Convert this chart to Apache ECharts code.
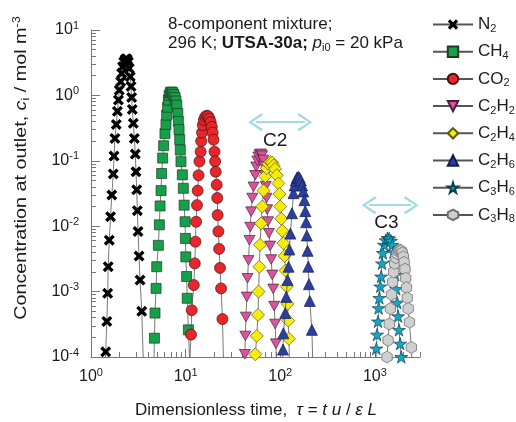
<!DOCTYPE html>
<html><head><meta charset="utf-8">
<script src="https://cdn.jsdelivr.net/npm/echarts@6/dist/echarts.min.js"></script>
<style>html,body{margin:0;padding:0;background:#fff}#c{width:516px;height:422px}</style>
</head><body><div id="c"></div>
<script>
const seriesNames = ['N2','CH4','CO2','C2H2','C2H4','C2H6','C3H6','C3H8'];
const legendLabels = ['N{s|2}','CH{s|4}','CO{s|2}','C{s|2}H{s|2}','C{s|2}H{s|4}','C{s|2}H{s|6}','C{s|3}H{s|6}','C{s|3}H{s|8}'];

const n2Data = [[1.40,6e-5],[1.43,1.2e-4],[1.47,3.5e-4],[1.50,9.4e-4],[1.52,2.4e-3],[1.56,6.1e-3],[1.61,0.014],[1.66,0.030],[1.72,0.063],[1.75,0.118],[1.79,0.22],[1.85,0.36],[1.90,0.57],[1.95,0.85],[1.99,1.2],[2.06,1.62],[2.11,2.18],[2.16,2.75],[2.22,3.25],[2.29,3.55],[2.36,3.65],[2.42,3.55],[2.48,3.25],[2.54,2.6],[2.60,1.93],[2.65,1.37],[2.69,0.93],[2.73,0.61],[2.80,0.375],[2.87,0.22],[2.94,0.127],[2.99,0.068],[3.04,0.036],[3.09,0.0173],[3.14,0.0083],[3.22,0.0035],[3.30,0.0015],[3.44,5e-4],[3.60,6e-5]];
const ch4Data = [[4.62,8e-5],[4.68,1.94e-4],[4.75,4.7e-4],[4.87,1.12e-3],[4.95,2.4e-3],[5.15,5.1e-3],[5.28,0.0105],[5.37,0.0204],[5.50,0.035],[5.58,0.064],[5.72,0.11],[5.85,0.17],[6.05,0.26],[6.20,0.36],[6.30,0.50],[6.45,0.66],[6.57,0.85],[6.70,1.0],[6.88,1.1],[7.08,1.13],[7.3,1.1],[7.52,1.03],[7.74,0.93],[7.9,0.82],[8.07,0.71],[8.27,0.53],[8.38,0.40],[8.52,0.30],[8.66,0.21],[8.79,0.146],[8.93,0.097],[9.23,0.061],[9.46,0.038],[9.64,0.021],[9.87,0.0117],[9.95,0.0065],[10.05,0.0034],[10.25,0.0017],[10.4,7.9e-4],[10.7,2.6e-4],[11.2,5e-5]];
const co2Data = [[11.0,7e-5],[11.4,2.2e-4],[11.6,5.2e-4],[12.2,1.26e-3],[12.5,2.7e-3],[12.7,5.8e-3],[12.9,0.0117],[13.2,0.021],[13.4,0.035],[13.7,0.060],[14.0,0.098],[14.4,0.138],[14.6,0.20],[14.9,0.27],[15.2,0.35],[15.6,0.42],[16.1,0.47],[16.7,0.49],[17.3,0.48],[17.9,0.44],[18.4,0.39],[18.9,0.33],[19.3,0.27],[19.7,0.21],[20.2,0.138],[20.5,0.098],[20.8,0.068],[21.3,0.043],[21.6,0.027],[21.8,0.0148],[22.2,0.0083],[22.6,0.0045],[23.1,0.0023],[23.7,0.00112],[24.5,3.8e-4],[25.3,6e-5]];
const c2h2Data = [[42.0,6e-5],[42.3,1.1e-4],[42.8,2.1e-4],[43.4,4.1e-4],[44.4,8.3e-4],[45.1,1.6e-3],[46.2,3.0e-3],[47.3,6.1e-3],[48.2,9.7e-3],[49.3,0.0167],[50.6,0.027],[52.2,0.040],[54.4,0.060],[55.7,0.081],[57.3,0.10],[58.7,0.115],[60.5,0.125],[62.5,0.128],[64.3,0.12],[66,0.103],[67.5,0.082],[69,0.06],[70.3,0.041],[71.5,0.027],[72.8,0.018],[74.2,0.0118],[76,0.0078],[78.2,0.005],[80.2,0.0031],[82.3,0.0018],[84.3,1.1e-3],[86.3,6e-4],[88.3,3.2e-4],[90,1.6e-4],[91.5,6e-5]];
const c2h4Data = [[53.5,6e-5],[54.5,1.1e-4],[56.5,2.1e-4],[58.2,4.4e-4],[59.0,1.0e-3],[60.2,2.4e-3],[61.2,5.2e-3],[62.8,0.011],[64.6,0.02],[66.6,0.035],[69.3,0.058],[72,0.077],[75,0.09],[78.5,0.096],[82,0.094],[85,0.085],[88,0.075],[92,0.06],[95.5,0.045],[98,0.031],[100,0.02],[102.5,0.013],[105,0.0085],[108,0.0055],[111,0.0035],[114,0.0021],[117,0.0012],[119.5,6.5e-4],[121.5,3.6e-4],[123.5,1.9e-4],[126,6e-5]];
const c2h6Data = [[105,6e-5],[107,1.3e-4],[108,2.3e-4],[113,4.7e-4],[115.6,8.3e-4],[119.5,1.5e-3],[122.5,2.4e-3],[125,4.4e-3],[128,7.7e-3],[133,0.0158],[138,0.032],[142,0.042],[146,0.05],[150,0.055],[155,0.057],[160,0.055],[165,0.05],[170,0.042],[175,0.034],[180,0.025],[184,0.017],[188,0.0115],[191,0.0072],[194.5,0.0042],[198,0.0024],[201,0.0013],[205,7.2e-4],[216,2.6e-4],[222,6e-5]];
const c3h6Data = [[1020,6e-5],[1037,1.35e-4],[1055,2.2e-4],[1080,3.5e-4],[1097,5.6e-4],[1115,8e-4],[1140,1.2e-3],[1165,1.7e-3],[1190,2.7e-3],[1215,3.9e-3],[1250,5.2e-3],[1300,6.1e-3],[1360,6.6e-3],[1420,6.5e-3],[1480,6.0e-3],[1530,5.2e-3],[1570,4.0e-3],[1600,2.8e-3],[1640,1.8e-3],[1680,1.1e-3],[1720,6.8e-4],[1760,4.2e-4],[1800,2.6e-4],[1850,1.6e-4],[1900,1.0e-4],[1950,5e-5]];
const c3h8Data = [[1320,6e-5],[1345,1.0e-4],[1380,1.8e-4],[1420,3.2e-4],[1460,5.5e-4],[1500,9e-4],[1540,1.4e-3],[1580,2.0e-3],[1620,2.7e-3],[1670,3.3e-3],[1720,3.8e-3],[1780,4.15e-3],[1840,4.3e-3],[1900,4.2e-3],[1950,3.9e-3],[2000,3.4e-3],[2040,2.8e-3],[2080,2.2e-3],[2120,1.6e-3],[2160,1.15e-3],[2200,8e-4],[2250,5.5e-4],[2320,3.4e-4],[2430,1.4e-4],[2500,5e-5]];

const xMajorTicks = [1,10,100,1000];
const xMinorTicks = [2,3,4,5,6,7,8,9,20,30,40,50,60,70,80,90,200,300,400,500,600,700,800,900,2000,3000];
const yMajorTicks = [1e-4,1e-3,1e-2,1e-1,1,10];
const yMinorTicks = [2e-4,3e-4,4e-4,5e-4,6e-4,7e-4,8e-4,9e-4,2e-3,3e-3,4e-3,5e-3,6e-3,7e-3,8e-3,9e-3,0.02,0.03,0.04,0.05,0.06,0.07,0.08,0.09,0.2,0.3,0.4,0.5,0.6,0.7,0.8,0.9,2,3,4,5,6,7,8,9];

const arrowC2 = [55, 182, 0.39];
const arrowC3 = [870, 2420, 0.021];
const labelC2 = [88.5, 0.2];
const labelC3 = [1324, 0.0112];

const FONT = '"Liberation Sans", Arial, sans-serif';
const TXT = '#1a1a1a';
const AX = '#777';

const SYM_X = 'path://M0,2.6 L2.6,0 L6,3.4 L9.4,0 L12,2.6 L8.6,6 L12,9.4 L9.4,12 L6,8.6 L2.6,12 L0,9.4 L3.4,6 Z';
const SYM_DOWN = 'path://M0,0 L100,0 L50,87 Z';
const SYM_STAR = 'path://M50,0 L61,35 L98,35 L68,57 L79,91 L50,70 L21,91 L32,57 L2,35 L39,35 Z';
const SYM_HEX = 'path://M50,0 L93,25 L93,75 L50,100 L7,75 L7,25 Z';
const SYM_CHEV = 'path://M50,0 L100,88 L90,100 L50,26 L10,100 L0,88 Z';

const styles = [
  {data:n2Data,  symbol:SYM_X,      size:11, color:'#000000', border:'#000000', bw:0},
  {data:ch4Data, symbol:'rect',     size:10, color:'#16a04a', border:'#1d3a22', bw:0.7},
  {data:co2Data, symbol:'circle',   size:11, color:'#e8262b', border:'#4a1010', bw:0.7},
  {data:c2h2Data,symbol:SYM_DOWN,   size:11, color:'#d9549c', border:'#4a2038', bw:0.7},
  {data:c2h4Data,symbol:'diamond',  size:13, color:'#f6ec0c', border:'#5a5410', bw:0.7},
  {data:c2h6Data,symbol:'triangle', size:11, color:'#2c3f9f', border:'#141e4a', bw:0.7},
  {data:c3h6Data,symbol:SYM_STAR,   size:13, color:'#15a6c4', border:'#0d4050', bw:0.7},
  {data:c3h8Data,symbol:SYM_HEX,    size:12, color:'#cfcfcf', border:'#707070', bw:0.8}
];

const series = seriesNames.map((name, i) => ({
  name: name, type: 'line', xAxisIndex: 0, yAxisIndex: 0,
  data: styles[i].data, symbol: styles[i].symbol, symbolSize: styles[i].size,
  symbolKeepAspect: true, showAllSymbol: true, clip: true,
  lineStyle: {color: '#555', width: 0.8},
  itemStyle: {color: styles[i].color, borderColor: styles[i].border, borderWidth: styles[i].bw, opacity: 1},
  emphasis: {disabled: true}, z: 2 + i
}));

series.push({
  name: 'annot', type: 'line', xAxisIndex: 0, yAxisIndex: 0, data: [], silent: true,
  markLine: {
    silent: true, symbol: [SYM_CHEV, SYM_CHEV], symbolSize: [18, 15],
    label: {show: false}, emphasis: {disabled: true},
    lineStyle: {color: '#a3dbe3', width: 2, type: 'solid'},
    data: [
      [{coord: [arrowC2[0], arrowC2[2]]}, {coord: [arrowC2[1], arrowC2[2]]}],
      [{coord: [arrowC3[0], arrowC3[2]]}, {coord: [arrowC3[1], arrowC3[2]]}]
    ]
  },
  markPoint: {
    silent: true, symbol: 'circle', symbolSize: 1, itemStyle: {color: 'rgba(0,0,0,0)'},
    label: {show: true, position: 'inside', formatter: '{b}', color: TXT, fontSize: 19, fontFamily: FONT},
    data: [{name: 'C2', coord: labelC2}, {name: 'C3', coord: labelC3}]
  }
});

const supRich = {
  b: {fontSize: 16, fontFamily: FONT, color: TXT},
  s: {fontSize: 11, fontFamily: FONT, color: TXT, padding: [0, 0, 9, 0]}
};
const expLabel = v => '{b|10}{s|' + Math.round(Math.log10(v)) + '}';

const option = {
  animation: false,
  backgroundColor: '#fff',
  grid: [
    {left: 91, top: 30, width: 329, height: 327},
    {left: 91, top: 30, width: 329, height: 327}
  ],
  xAxis: [
    {type: 'log', gridIndex: 0, min: 1, max: 3000, logBase: 10,
     axisLine: {show: true, lineStyle: {color: AX, width: 1}},
     axisTick: {show: true, inside: true, length: 8, customValues: xMajorTicks, lineStyle: {color: AX}},
     axisLabel: {show: true, margin: 10, customValues: xMajorTicks, formatter: expLabel, rich: supRich},
     splitLine: {show: false}, minorTick: {show: false}},
    {type: 'log', gridIndex: 1, min: 1, max: 3000, logBase: 10,
     axisLine: {show: false},
     axisTick: {show: true, inside: true, length: 5, customValues: xMinorTicks, lineStyle: {color: AX}},
     axisLabel: {show: false}, splitLine: {show: false}}
  ],
  yAxis: [
    {type: 'log', gridIndex: 0, min: 1e-4, max: 10, logBase: 10,
     axisLine: {show: true, lineStyle: {color: AX, width: 1}},
     axisTick: {show: true, inside: true, length: 9, customValues: yMajorTicks, lineStyle: {color: AX}},
     axisLabel: {show: true, margin: 12, customValues: yMajorTicks, formatter: expLabel, rich: supRich},
     splitLine: {show: false}},
    {type: 'log', gridIndex: 1, min: 1e-4, max: 10, logBase: 10,
     axisLine: {show: false},
     axisTick: {show: true, inside: true, length: 5, customValues: yMinorTicks, lineStyle: {color: AX}},
     axisLabel: {show: false}, splitLine: {show: false}}
  ],
  legend: {
    data: seriesNames, orient: 'vertical', left: 427, top: 11,
    itemWidth: 40, itemHeight: 13, itemGap: 8.7,
    selectedMode: false,
    formatter: name => legendLabels[seriesNames.indexOf(name)],
    textStyle: {fontSize: 17, fontFamily: FONT, color: TXT, padding: [0,0,0,0],
      rich: {s: {fontSize: 11, fontFamily: FONT, color: TXT, padding: [9, 0, 0, 0]}}}
  },
  graphic: [
    {type: 'text', left: 168, top: 16, silent: true,
     style: {text: '8-component mixture;', fontSize: 17, fontFamily: FONT, fill: TXT}},
    {type: 'text', left: 168, top: 35, silent: true,
     style: {text: '296 K; {b|UTSA-30a;} {i|p}{s|i0} = 20 kPa', fontSize: 17, fontFamily: FONT, fill: TXT,
       rich: {b: {fontSize: 17, fontWeight: 'bold', fontFamily: FONT, color: TXT},
              i: {fontSize: 17, fontStyle: 'italic', fontFamily: FONT, color: TXT},
              s: {fontSize: 11, fontFamily: FONT, color: TXT, padding: [9, 0, 0, 0]}}}},
    {type: 'text', x: 21, y: 168, rotation: Math.PI / 2, scaleX: 1.16, silent: true,
     style: {text: 'Concentration at outlet, {i|c}{s|i} / mol m{p|-3}', fontSize: 17, fontFamily: FONT, fill: TXT,
       align: 'center', verticalAlign: 'middle',
       rich: {i: {fontSize: 17, fontStyle: 'italic', fontFamily: FONT, color: TXT},
              s: {fontSize: 11, fontFamily: FONT, color: TXT, padding: [9, 0, 0, 0]},
              p: {fontSize: 11, fontFamily: FONT, color: TXT, padding: [0, 0, 9, 0]}}}},
    {type: 'text', x: 256, y: 410, silent: true,
     style: {text: 'Dimensionless time,  {i|τ} = {i|t u} / {i|ε L}', fontSize: 17, fontFamily: FONT, fill: TXT,
       align: 'center', verticalAlign: 'middle',
       rich: {i: {fontSize: 17, fontStyle: 'italic', fontFamily: FONT, color: TXT}}}}
  ],
  series: series
};

const chart = echarts.init(document.getElementById('c'), null, {renderer: 'canvas'});
chart.setOption(option);
</script>
</body></html>
